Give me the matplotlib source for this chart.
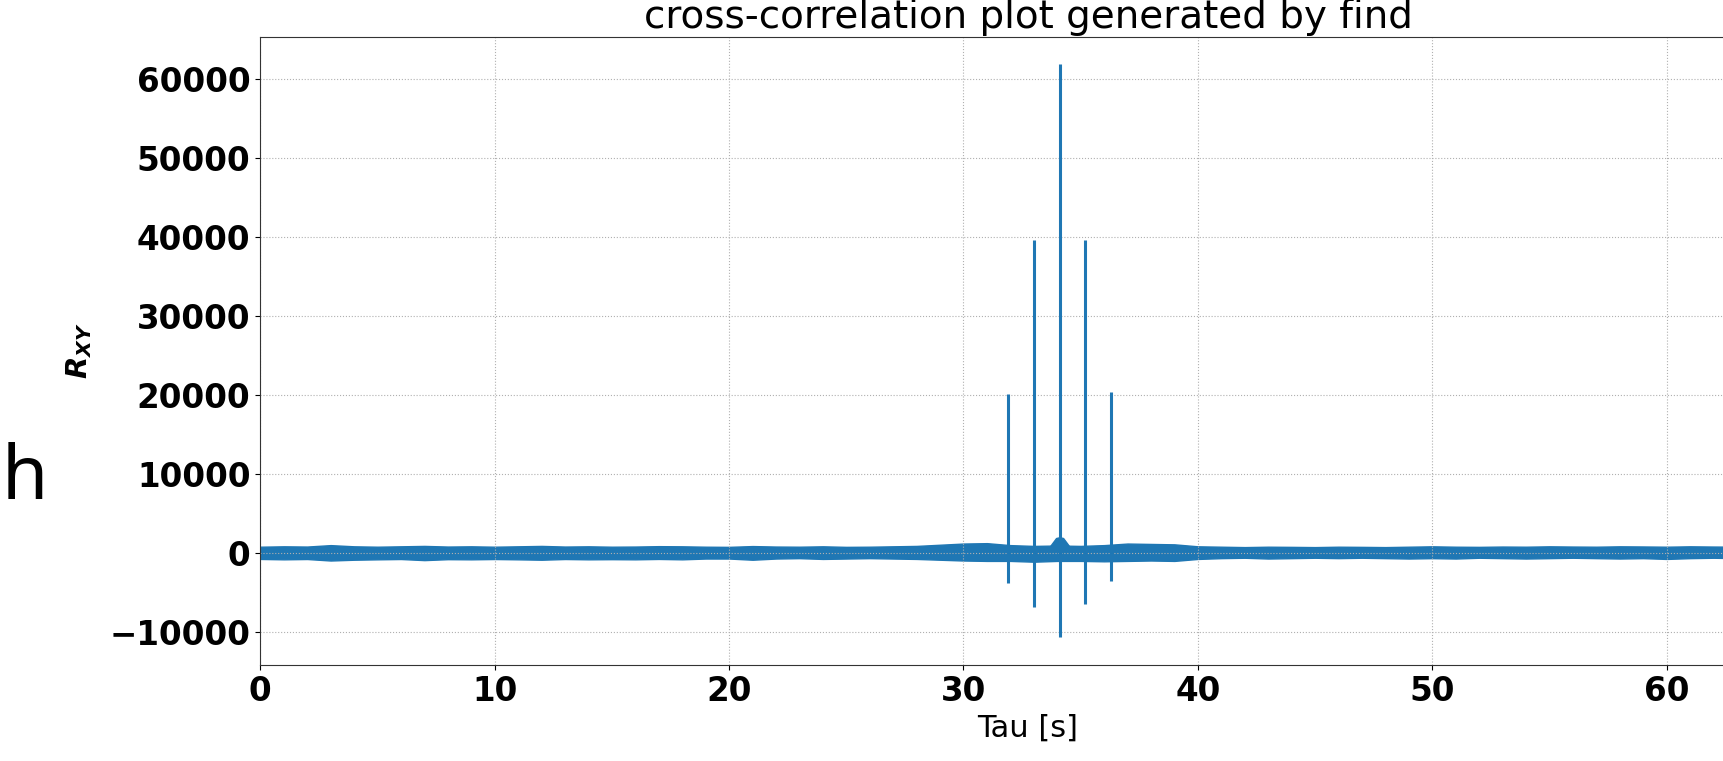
import matplotlib.pyplot as plt

# 噪声带的上下包络（每秒一个点，读自原图）
env_tau = list(range(66))
env_upper = [800, 850, 820, 1000, 850, 800, 850, 900, 820, 850,
             800, 850, 900, 820, 850, 800, 820, 870, 850, 800,
             780, 880, 820, 800, 850, 780, 800, 850, 900, 1050,
             1200, 1250, 1000, 900, 950, 900, 1000, 1200, 1150, 1100,
             850, 800, 750, 800, 780, 750, 800, 780, 750, 800,
             850, 800, 780, 820, 800, 850, 820, 800, 850, 830,
             800, 850, 820, 800, 850, 800]
env_lower = [-750, -800, -760, -950, -850, -800, -760, -900, -780, -800,
             -760, -800, -850, -760, -800, -780, -800, -750, -800, -700,
             -700, -850, -700, -650, -750, -700, -650, -700, -750, -850,
             -950, -1000, -1000, -1100, -1000, -1000, -1050, -1000, -950, -1000,
             -750, -650, -600, -700, -650, -600, -650, -600, -650, -700,
             -650, -700, -600, -650, -700, -650, -600, -650, -700, -650,
             -750, -650, -600, -650, -700, -650]

# 中心处的小鼓包
bump_tau = [33.7, 33.85, 33.95, 34.1, 34.25, 34.35, 34.5]
bump_top = [900, 1500, 1900, 2000, 1900, 1500, 900]

# 五个尖峰
spike_tau = [31.9, 33.0, 34.1, 35.2, 36.3]
spike_max = [20200, 39700, 61950, 39700, 20400]
spike_min = [-3760, -6800, -10700, -6400, -3500]

plt.rcParams['mathtext.fontset'] = 'custom'
plt.rcParams['mathtext.it'] = 'DejaVu Sans:italic:bold'
plt.rcParams['mathtext.rm'] = 'DejaVu Sans:bold'

fig = plt.figure(figsize=(17.23, 7.61), dpi=100)
ax = fig.add_axes([0.1511, 0.126, 0.891, 0.826])

c = '#1f77b4'
ax.fill_between(env_tau, env_lower, env_upper, color=c, lw=1.0)
ax.fill_between(bump_tau, 0, bump_top, color=c, lw=1.0)
ax.vlines(spike_tau, spike_min, spike_max, color=c, lw=2.2)

ax.set_xlim(0, 65.5)
ax.set_ylim(-14200, 65430)
ax.grid(ls=':', color='#b0b0b0', lw=0.8)
for s in ax.spines.values():
    s.set_color('#333333')

ax.tick_params(axis='both', which='major', labelsize=23.5)
for lab in ax.get_xticklabels() + ax.get_yticklabels():
    lab.set_fontweight('bold')

ax.set_title("cross-correlation plot generated by find", fontsize=28)
ax.set_xlabel("Tau [s]", fontsize=22)
ax.set_ylabel(r"$R_{XY}$", fontsize=21, labelpad=11)

# 截图左侧页面中的文字
fig.text(0.001, 0.344, "h", fontsize=54, family='Noto Sans')

fig.savefig('out.png')
